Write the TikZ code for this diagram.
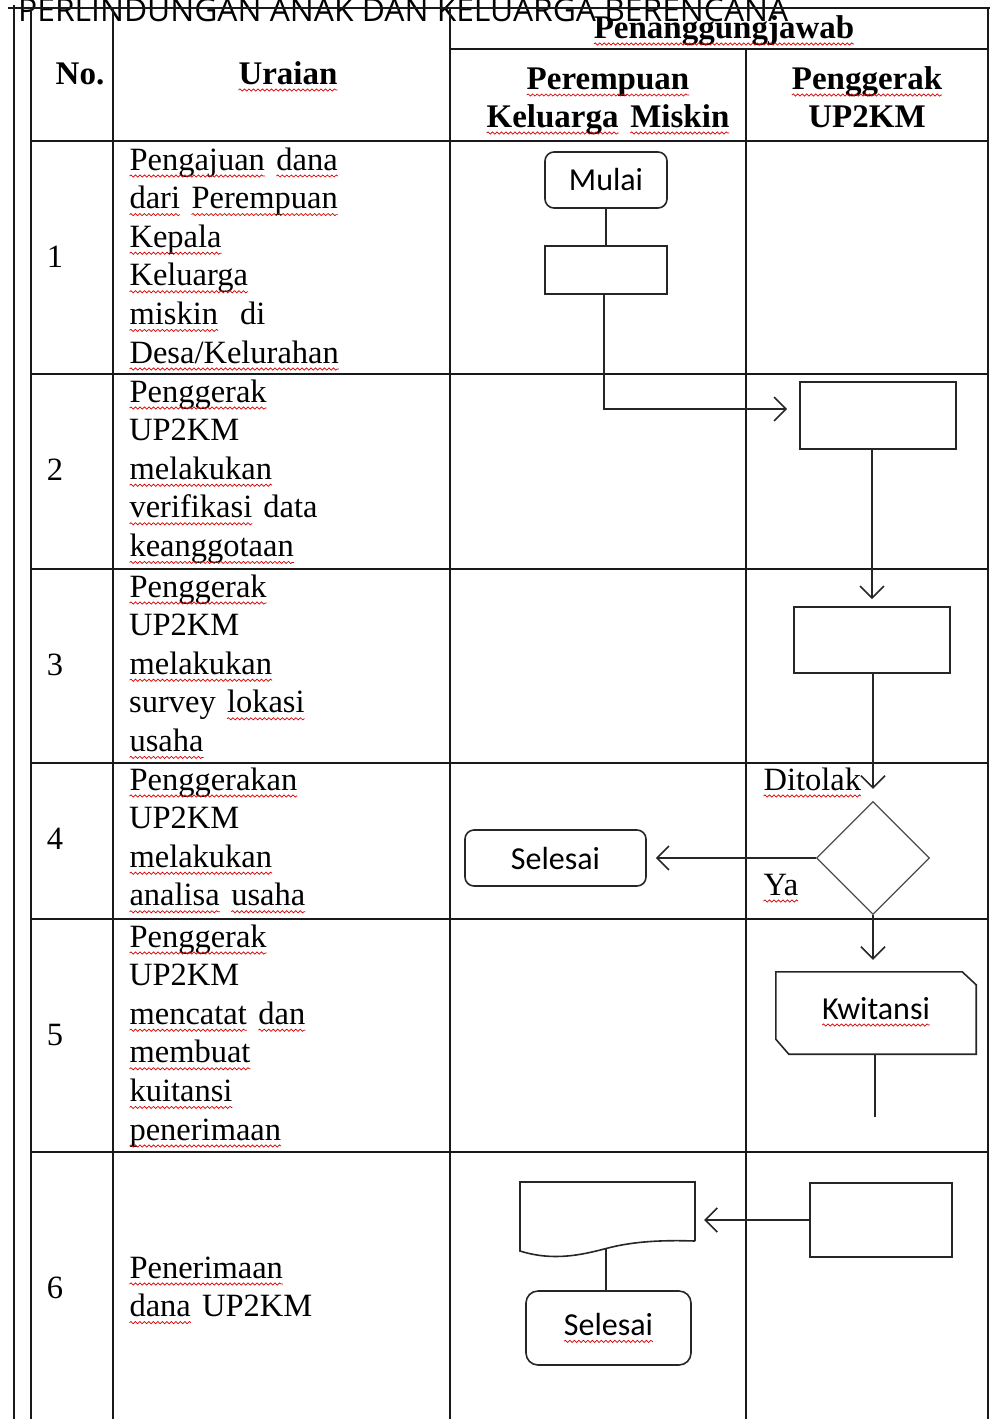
\documentclass[tikz,border=0pt]{standalone}
\usepackage{fontspec}
\setmainfont{Liberation Serif}
\newfontfamily\titlefont{Open Sans}
\newfontfamily\calfont{Carlito}
\usetikzlibrary{arrows.meta,shapes.geometric,decorations.pathmorphing}
\newcommand\sq[1]{\tikz[baseline=(sqw.base)]{\node[shape=rectangle, draw=none, fill=none, inner sep=0pt, outer sep=0pt, minimum width=0pt, minimum height=0pt, text width=, align=none, anchor=base, sharp corners] (sqw) {#1};\draw[-, sharp corners, shorten >=0pt, shorten <=0pt, red!85!black, line width=0.7pt, decorate, decoration={snake, amplitude=1.1pt, segment length=4.5pt}] ([yshift=-6pt]sqw.base west) -- ([yshift=-6pt]sqw.base east);}}
\tikzset{
  tbl/.style={line width=1.8pt, draw=black!90},
  flow/.style={line width=1.6pt, draw=black!85},
  box/.style={flow, rectangle, inner sep=0pt},
  term/.style={flow, rectangle, rounded corners=9pt, inner sep=0pt, font=\calfont\fontsize{32}{36}\selectfont},
  conn/.style={flow, -{Straight Barb[length=12pt,width=24pt]}},
  cell/.style={anchor=base west, text width=320pt, align=left, inner sep=0pt, font=\fontsize{32.5}{38.6}\selectfont},
  num/.style={anchor=base, inner sep=0pt, font=\fontsize{32.5}{38.6}\selectfont},
  head/.style={anchor=base, text width=290pt, align=center, inner sep=0pt, font=\bfseries\fontsize{33}{38}\selectfont},
  lbl/.style={anchor=base west, inner sep=0pt, font=\fontsize{32.5}{38.6}\selectfont}
}
\begin{document}
\begin{tikzpicture}[x=1pt,y=-1pt]
\useasboundingbox (0,0) rectangle (991,1419);
% title
\node[anchor=base west, inner sep=0pt, font=\titlefont\fontsize{31.8}{36}\selectfont] (title) at (18,21) {PERLINDUNGAN ANAK DAN KELUARGA BERENCANA};
% table grid
\draw[tbl] (8,8) -- (990,8);
\draw[tbl] (14,5) -- (14,1419);
\draw[tbl] (31,8) -- (31,1419);
\draw[tbl] (113,8) -- (113,1419);
\draw[tbl] (450,8) -- (450,1419);
\draw[tbl] (988,8) -- (988,1419);
\draw[tbl] (746,49) -- (746,1419);
\draw[tbl] (450,49) -- (988,49);
\foreach \yy in {141,374,569,763,919,1152} {\draw[tbl] (31,\yy) -- (988,\yy);}
% header
\node[head] (hno) at (80,84) {No.};
\node[head] (hur) at (288,84) {\sq{Uraian}};
\node[head] (hpj) at (724,38) {\sq{Penanggungjawab}};
\node[head] (hpk) at (608,89) {\sq{Perempuan}\\\sq{Keluarga} \sq{Miskin}};
\node[head] (hpg) at (867,89) {\sq{Penggerak}\\UP2KM};
% numbers
\node[num] (n1) at (55,267) {1};
\node[num] (n2) at (55,480) {2};
\node[num] (n3) at (55,675) {3};
\node[num] (n4) at (55,849) {4};
\node[num] (n5) at (55,1045) {5};
\node[num] (n6) at (55,1298) {6};
% descriptions
\node[cell] (u1) at (129,170) {\sq{Pengajuan} \sq{dana}\\\sq{dari} \sq{Perempuan}\\\sq{Kepala}\\\sq{Keluarga}\\\sq{miskin}\ \ di\\\sq{Desa/Kelurahan}};
\node[cell] (u2) at (129,402) {\sq{Penggerak}\\UP2KM\\\sq{melakukan}\\\sq{verifikasi} data\\\sq{keanggotaan}};
\node[cell] (u3) at (129,597) {\sq{Penggerak}\\UP2KM\\\sq{melakukan}\\survey \sq{lokasi}\\\sq{usaha}};
\node[cell] (u4) at (129,790) {\sq{Penggerakan}\\UP2KM\\\sq{melakukan}\\\sq{analisa} \sq{usaha}};
\node[cell] (u5) at (129,947) {\sq{Penggerak}\\UP2KM\\\sq{mencatat} \sq{dan}\\\sq{membuat}\\\sq{kuitansi}\\\sq{penerimaan}};
\node[cell] (u6) at (129,1278) {\sq{Penerimaan}\\\sq{dana} UP2KM};
% flow nodes
\node[term, minimum width=122pt, minimum height=56pt] (mulai) at (606,180) {Mulai};
\node[box, minimum width=122pt, minimum height=48pt] (r1) at (606,270) {};
\node[box, minimum width=156pt, minimum height=67pt] (r2) at (878,415.5) {};
\node[box, minimum width=156pt, minimum height=66pt] (r3) at (872,640) {};
\node[shape=diamond, aspect=1, draw=black!70, line width=1.3pt, inner sep=0pt, minimum width=113pt, minimum height=113pt] (dia) at (873,858) {};
\node[term, minimum width=181pt, minimum height=56pt] (sel1) at (555.5,858) {Selesai};
\node[inner sep=0pt, minimum width=200pt, minimum height=82pt, font=\calfont\fontsize{32}{36}\selectfont] (kw) at (876,1013) {\raisebox{10pt}{\sq{Kwitansi}}};
\draw[flow] (kw.north west) -- ([xshift=-14pt]kw.north east) -- ([yshift=-13pt]kw.north east) -- (kw.south east) -- ([xshift=13pt]kw.south west) -- ([yshift=15pt]kw.south west) -- cycle;
\coordinate (kend) at (875,1117);
\node[box, minimum width=142pt, minimum height=74pt] (r6) at (881,1220) {};
\node[inner sep=0pt, minimum width=175pt, minimum height=59pt] (doc) at (607.5,1211.5) {};
\draw[flow] (695,1241) -- (695,1182) -- (520,1182) -- (520,1251) .. controls (555,1262) and (585,1254) .. (608,1248) .. controls (635,1241) and (665,1240) .. (695,1241);
\coordinate (docb) at (606,1248.5);
\node[term, rounded corners=12pt, minimum width=165pt, minimum height=74pt] (sel2) at (608.5,1328) {\sq{Selesai}};
% labels
\node[lbl] (ditolak) at (763,790) {\sq{Ditolak}};
\node[lbl] (ya) at (763,895) {\sq{Ya}};
% connectors
\draw[flow] (mulai.south) -- (r1.north);
\coordinate (bend1) at (604,409);
\draw[conn, shorten >=12pt] (r1.south -| bend1) -- (bend1) -- (bend1 -| r2.west);
\draw[conn, shorten >=7pt] (r2.south -| r3.north) -- (r3.north);
\draw[conn, shorten >=12pt] (r3.south -| dia.north) -- (dia.north);
\draw[conn, shorten >=9pt] (dia.west) -- (sel1.east);
\draw[conn, shorten >=12pt] (dia.south) -- (dia.south |- kw.north);
\draw[flow] (kw.south -| kend) -- (kend);
\draw[conn, shorten >=9pt] (r6.west) -- (r6.west -| doc.east);
\draw[flow] (docb) -- (docb |- sel2.north);
\end{tikzpicture}
\end{document}
